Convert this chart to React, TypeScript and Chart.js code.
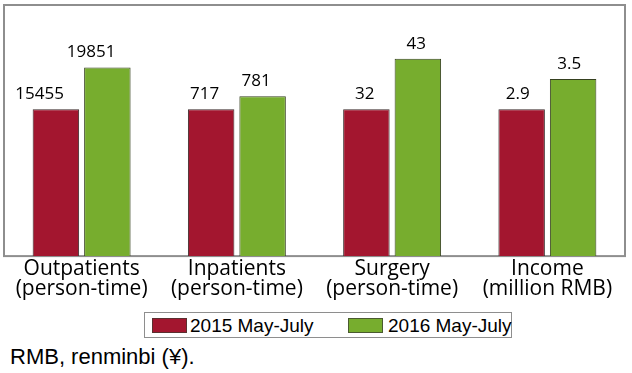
import React, { useEffect, useRef } from "react";
import { Chart, registerables } from "chart.js";

Chart.register(...registerables);

const categories = [
  ["Outpatients", "(person-time)"],
  ["Inpatients", "(person-time)"],
  ["Surgery", "(person-time)"],
  ["Income", "(million RMB)"],
];
const series2015Label = "2015 May-July";
const series2016Label = "2016 May-July";
const values2015 = [15455, 717, 32, 2.9];
const values2016 = [19851, 781, 43, 3.5];
const labels2015 = ["15455", "717", "32", "2.9"];
const labels2016 = ["19851", "781", "43", "3.5"];
const footnote = "RMB, renminbi (\u00a5).";

const RED = "#a3162f";
const GREEN = "#77ad2e";

const valueLabelPlugin = {
  id: "valueLabels",
  afterDatasetsDraw(chart: any) {
    const ctx = chart.ctx;
    const sets = [labels2015, labels2016];
    ctx.save();
    ctx.font = "17px 'Open Sans', sans-serif";
    ctx.fillStyle = "#000";
    ctx.textAlign = "right";
    ctx.textBaseline = "alphabetic";
    chart.data.datasets.forEach((_: any, di: number) => {
      const meta = chart.getDatasetMeta(di);
      meta.data.forEach((bar: any, i: number) => {
        ctx.fillText(sets[di][i], bar.x + 8, bar.y - 10);
      });
    });
    ctx.restore();
  },
};

const framePlugin = {
  id: "frame",
  beforeDatasetsDraw(chart: any) {
    const { ctx, chartArea } = chart;
    ctx.save();
    ctx.strokeStyle = "#8e8e8e";
    ctx.lineWidth = 2;
    ctx.strokeRect(chartArea.left, chartArea.top, chartArea.right - chartArea.left, chartArea.bottom - chartArea.top);
    ctx.restore();
  },
};

export default function App() {
  const canvasRef = useRef<HTMLCanvasElement | null>(null);

  useEffect(() => {
    document.body.style.margin = "0";
    const canvas = canvasRef.current;
    if (!canvas) return;
    const chart = new Chart(canvas, {
      type: "bar",
      data: {
        labels: categories,
        datasets: [
          {
            label: series2015Label,
            data: values2015.map((v, i) => v / values2015[i]),
            backgroundColor: RED,
            borderColor: "#3a2a2a",
            borderWidth: 1,
            categoryPercentage: 0.663,
            barPercentage: 0.903,
          },
          {
            label: series2016Label,
            data: values2016.map((v, i) => v / values2015[i]),
            backgroundColor: GREEN,
            borderColor: "#35401f",
            borderWidth: 1,
            categoryPercentage: 0.663,
            barPercentage: 0.903,
          },
        ],
      },
      options: {
        responsive: false,
        animation: false,
        devicePixelRatio: 1,
        layout: { padding: { left: 4, right: 7, top: 5, bottom: 0 } },
        plugins: {
          legend: { display: false },
          tooltip: { enabled: false },
        },
        scales: {
          x: {
            grid: { display: false, drawTicks: false },
            border: { display: false },
            ticks: {
              color: "#000",
              padding: 3,
              font: { family: "'Open Sans', sans-serif", size: 21, lineHeight: 0.95 },
              maxRotation: 0,
              autoSkip: false,
            },
          },
          y: {
            display: false,
            min: 0,
            max: 1.71,
          },
        },
      },
      plugins: [framePlugin, valueLabelPlugin],
    });
    return () => chart.destroy();
  }, []);

  return (
    <div style={{ position: "relative", width: 632, height: 373, background: "#fff", overflow: "hidden" }}>
      <canvas ref={canvasRef} width={632} height={302} style={{ position: "absolute", left: 0, top: 0, width: 632, height: 302 }} />
      <div
        style={{
          position: "absolute",
          left: 144,
          top: 312,
          width: 368,
          height: 26,
          boxSizing: "border-box",
          border: "1px solid #8e8e8e",
          fontFamily: "'Liberation Sans', Arial, sans-serif",
          fontSize: 19,
          color: "#000",
        }}
      >
        <div style={{ position: "absolute", left: 7, top: 5, width: 35, height: 15, boxSizing: "border-box", background: RED, border: "1px solid #5a3030" }} />
        <div style={{ position: "absolute", left: 45, top: 1, lineHeight: "24px", whiteSpace: "nowrap" }}>{series2015Label}</div>
        <div style={{ position: "absolute", left: 203, top: 5, width: 35, height: 15, boxSizing: "border-box", background: GREEN, border: "1px solid #4a5a30" }} />
        <div style={{ position: "absolute", left: 243, top: 1, lineHeight: "24px", whiteSpace: "nowrap" }}>{series2016Label}</div>
      </div>
      <div
        style={{
          position: "absolute",
          left: 10,
          top: 346,
          lineHeight: "22px",
          fontFamily: "'Liberation Sans', Arial, sans-serif",
          fontSize: 22,
          color: "#000",
          whiteSpace: "nowrap",
        }}
      >
        {footnote}
      </div>
    </div>
  );
}
